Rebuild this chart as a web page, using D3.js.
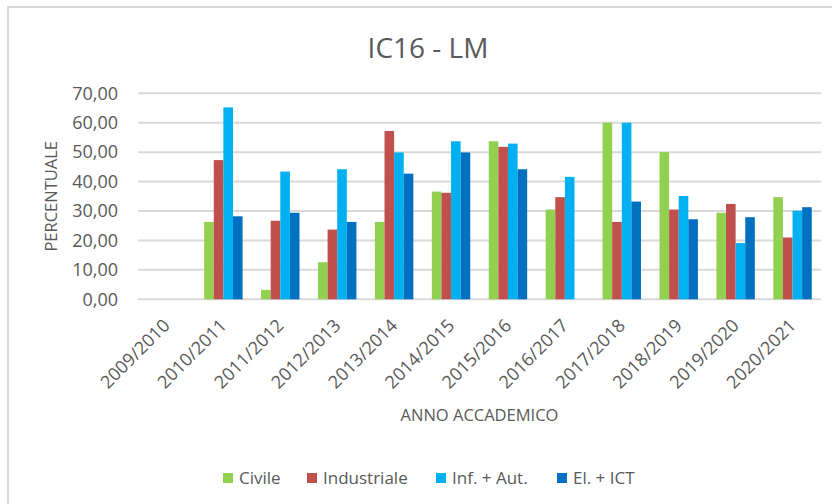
<!DOCTYPE html>
<html lang="it">
<head>
<meta charset="UTF-8">
<title>IC16 - LM</title>
<script src="https://d3js.org/d3.v7.min.js"></script>
<style>
  body { margin: 0; background: #fff; }
  svg { display: block; font-family: "Open Sans", sans-serif; }
</style>
</head>
<body>
<svg width="832" height="504"></svg>
<script>
// anni accademici
const years = ["2009/2010", "2010/2011", "2011/2012", "2012/2013", "2013/2014", "2014/2015",
  "2015/2016", "2016/2017", "2017/2018", "2018/2019", "2019/2020", "2020/2021"];

const seriesNames = ["Civile", "Industriale", "Inf. + Aut.", "El. + ICT"];
const colors = ["#92d050", "#c0504d", "#00b0f0", "#0070c0"];

// valori (null = nessun dato)
const civile      = [null, 26.3, 3.2, 12.6, 26.3, 36.6, 53.7, 30.5, 60.0, 50.0, 29.4, 34.7];
const industriale = [null, 47.3, 26.7, 23.7, 57.2, 36.2, 51.8, 34.7, 26.3, 30.5, 32.4, 21.0];
const infAut      = [null, 65.2, 43.4, 44.2, 49.9, 53.7, 52.9, 41.6, 60.0, 35.1, 19.1, 30.1];
const elIct       = [null, 28.2, 29.4, 26.3, 42.7, 49.9, 44.2, null, 33.2, 27.2, 27.9, 31.3];
const values = [civile, industriale, infAut, elIct];

const yTicks = [0, 10, 20, 30, 40, 50, 60, 70];

const svg = d3.select("svg");
const fmt = d => d.toFixed(2).replace(".", ",");

// cornice del grafico
svg.append("rect")
  .attr("x", 8).attr("y", 7)
  .attr("width", 840).attr("height", 520)
  .attr("fill", "none")
  .attr("stroke", "#d9d9d9")
  .attr("stroke-width", 2);

const plotLeft = 138, plotRight = 821, plotTop = 93.3, plotBottom = 299.3;

const x0 = d3.scaleBand().domain(years).range([plotLeft, plotRight])
  .paddingInner(0.325).paddingOuter(0.1625);
const x1 = d3.scaleBand().domain(d3.range(seriesNames.length)).range([0, x0.bandwidth()]);
const y = d3.scaleLinear().domain([0, 70]).range([plotBottom, plotTop]);

// griglia
svg.append("g")
  .selectAll("line")
  .data(yTicks)
  .join("line")
  .attr("x1", plotLeft).attr("x2", plotRight)
  .attr("y1", d => y(d)).attr("y2", d => y(d))
  .attr("stroke", "#d9d9d9")
  .attr("stroke-width", 2);

// etichette asse y
svg.append("g")
  .selectAll("text")
  .data(yTicks)
  .join("text")
  .attr("x", 118)
  .attr("y", d => y(d))
  .attr("dy", "0.35em")
  .attr("text-anchor", "end")
  .attr("font-size", 18)
  .attr("fill", "#595959")
  .text(fmt);

// barre
const groups = svg.append("g")
  .selectAll("g")
  .data(years)
  .join("g")
  .attr("transform", d => `translate(${x0(d)},0)`);

groups.selectAll("rect")
  .data((d, i) => values.map((s, k) => ({ k, v: s[i] })).filter(e => e.v != null))
  .join("rect")
  .attr("x", d => x1(d.k))
  .attr("width", x1.bandwidth())
  .attr("y", d => y(d.v))
  .attr("height", d => y(0) - y(d.v))
  .attr("fill", d => colors[d.k]);

// etichette asse x (ruotate)
svg.append("g")
  .selectAll("text")
  .data(years)
  .join("text")
  .attr("transform", d => `translate(${x0(d) + x0.bandwidth() / 2},${plotBottom + 23}) rotate(-45)`)
  .attr("text-anchor", "end")
  .attr("dy", "0.35em")
  .attr("font-size", 18)
  .attr("fill", "#595959")
  .text(d => d);

// titoli
svg.append("text")
  .attr("x", 428).attr("y", 58)
  .attr("text-anchor", "middle")
  .attr("font-size", 28)
  .attr("fill", "#595959")
  .text("IC16 - LM");

svg.append("text")
  .attr("x", (plotLeft + plotRight) / 2).attr("y", 421)
  .attr("text-anchor", "middle")
  .attr("font-size", 16.5)
  .attr("fill", "#595959")
  .text("ANNO ACCADEMICO");

svg.append("text")
  .attr("transform", `translate(57,${(plotTop + plotBottom) / 2}) rotate(-90)`)
  .attr("text-anchor", "middle")
  .attr("font-size", 16.5)
  .attr("fill", "#595959")
  .text("PERCENTUALE");

// legenda
const legendX = [223, 307, 436, 557];
const legend = svg.append("g")
  .selectAll("g")
  .data(seriesNames)
  .join("g")
  .attr("transform", (d, i) => `translate(${legendX[i]},473)`);
legend.append("rect")
  .attr("width", 10).attr("height", 10)
  .attr("fill", (d, i) => colors[i]);
legend.append("text")
  .attr("x", 16).attr("y", 5)
  .attr("dy", "0.35em")
  .attr("font-size", 17)
  .attr("fill", "#595959")
  .text(d => d);
</script>
</body>
</html>
